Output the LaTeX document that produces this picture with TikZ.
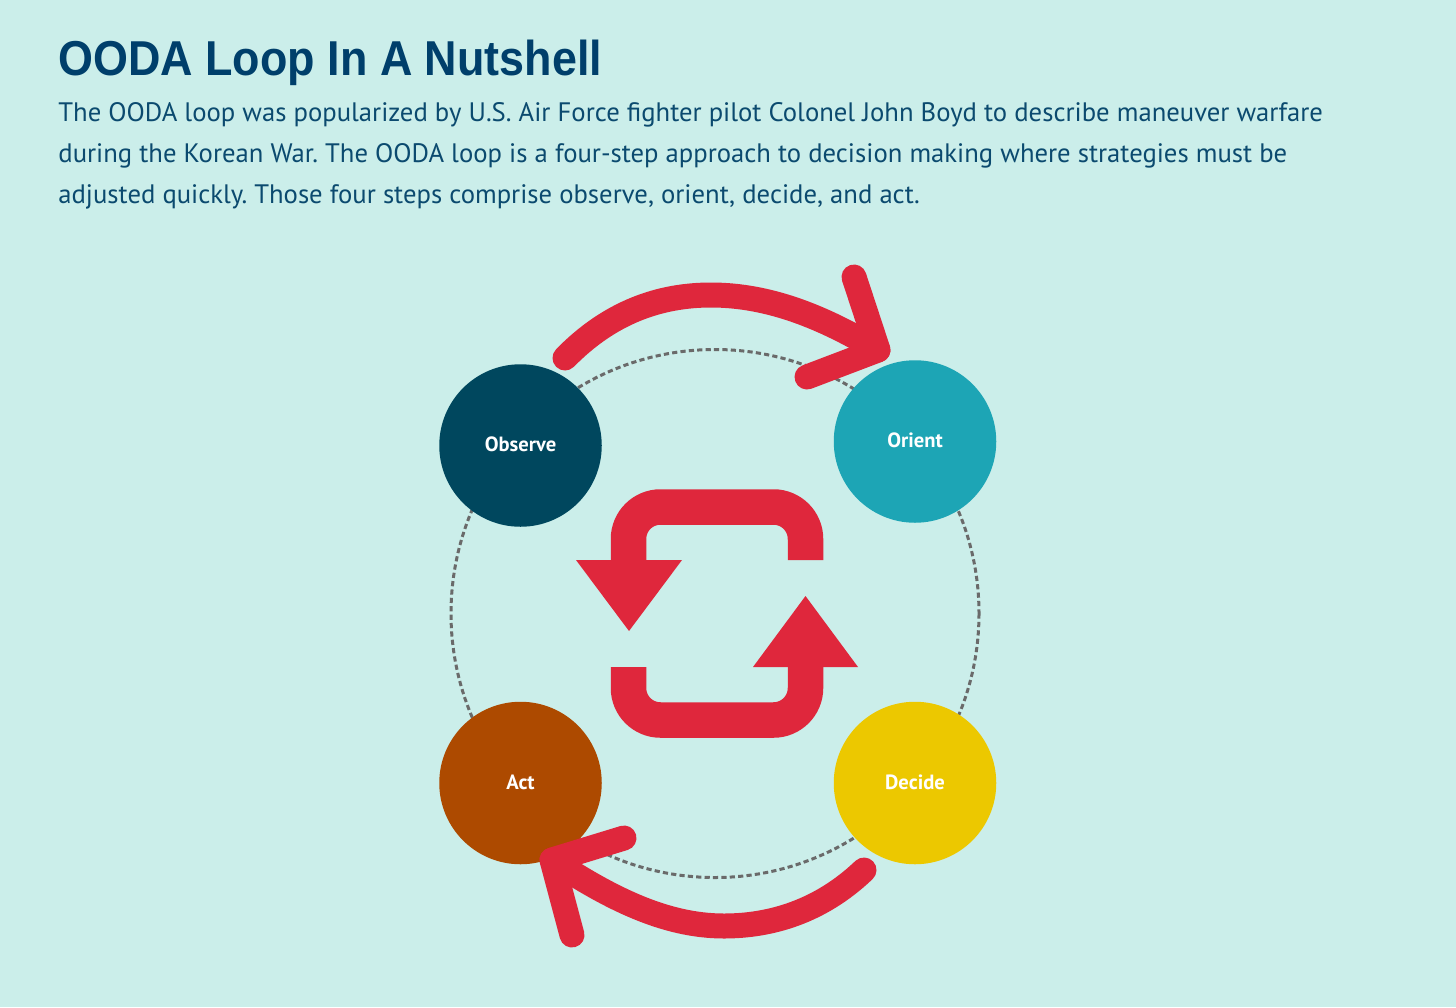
\documentclass[tikz,border=0pt]{standalone}
\usepackage{fontspec}
\setmainfont{PT Sans}
\newfontfamily\titlefont[FakeStretch=0.916]{Liberation Sans}
\usepackage{tikz}
\usetikzlibrary{positioning}
\definecolor{pagebg}{HTML}{CBEEEA}
\definecolor{titleblue}{HTML}{003F6B}
\definecolor{bodyblue}{HTML}{0B4A6F}
\definecolor{observecol}{HTML}{00475E}
\definecolor{orientcol}{HTML}{1DA5B5}
\definecolor{decidecol}{HTML}{ECC800}
\definecolor{actcol}{HTML}{AD4A00}
\definecolor{loopred}{HTML}{DF273C}
\definecolor{ringgray}{HTML}{6A6A6A}
\tikzset{
x=0.5pt, y=-0.5pt, % one unit is one pixel of the reference
stage/.style={circle, minimum size=81.25pt, inner sep=0pt, text depth=1pt, text=white, font=\bfseries\fontsize{10.3}{12}\selectfont}, % the four steps
sweep/.style={draw=loopred, line width=12.5pt, line cap=round, line join=round}, % the two large arrows
iconline/.style={draw=loopred, line width=17.75pt, rounded corners=16pt}, % the middle icon
ring/.style={draw=ringgray, line width=1.5pt, dash pattern=on 2.6pt off 1.6pt}, % dashed circle
}

\begin{document}
\begin{tikzpicture}
        \fill[pagebg] (0,0) rectangle (1456,1007);
        \useasboundingbox (0,0) rectangle (1456,1007);

        \node[anchor=base west, inner sep=0pt, text=titleblue, font=\titlefont\bfseries\fontsize{24.5}{28}\selectfont] (title) at (58,75) {OODA Loop In A Nutshell};
        \node[anchor=north west, inner sep=0pt, align=left, text=bodyblue, font=\frenchspacing\fontsize{13.34}{20.5}\selectfont] (intro) at (58,102) {The OODA loop was popularized by U.S. Air Force fighter pilot Colonel John Boyd to describe maneuver warfare\\
        during the Korean War. The OODA loop is a four-step approach to decision making where strategies must be\\
        adjusted quickly. Those four steps comprise observe, orient, decide, and act.};

        \coordinate (ringcentre) at (715,613.5);
        \draw[ring] (ringcentre) circle (264);

        \node[stage, fill=observecol] (observe) at (520.5,445.5) {Observe};
        \node[stage, fill=orientcol] (orient) at (915,441.5) {Orient};
        \node[stage, fill=decidecol, below=170.75pt of orient.center, anchor=center] (decide) {Decide};
        \node[stage, fill=actcol, left=197.25pt of decide.center, anchor=center] (act) {Act};

        % top arrow
        \coordinate (topstart) at (565,358);
        \coordinate (toptip) at (878,350);
        \coordinate (toparma) at (854,277);
        \coordinate (toparmb) at (807,377);
        \draw[sweep] (topstart) .. controls (610,312) and (660,295) .. (711,295) .. controls (770,295) and (825,318) .. (toptip);
        \draw[sweep] (toparma) -- (toptip) -- (toparmb);

        % bottom arrow
        \coordinate (botstart) at (864,870);
        \coordinate (bottip) at (552,860);
        \coordinate (botarma) at (624,838);
        \coordinate (botarmb) at (572,935);
        \draw[sweep] (botstart) .. controls (820,912) and (770,926) .. (724,926) .. controls (665,926) and (610,898) .. (bottip);
        \draw[sweep] (botarma) -- (bottip) -- (botarmb);

        % middle icon
        \coordinate (upperend) at (805.5,560);
        \coordinate (upperhead) at (628.5,560);
        \coordinate (lowerend) at (628.5,667);
        \coordinate (lowerhead) at (805.5,667);
        \draw[iconline] (upperend) -- (805.5,507) -- (628.5,507) -- (upperhead);
        \fill[loopred] (576,560) -- (682,560) -- (629,631) -- cycle;
        \draw[iconline] (lowerend) -- (628.5,720) -- (805.5,720) -- (lowerhead);
        \fill[loopred] (753,667) -- (858,667) -- (805.5,596) -- cycle;
\end{tikzpicture}
\end{document}
